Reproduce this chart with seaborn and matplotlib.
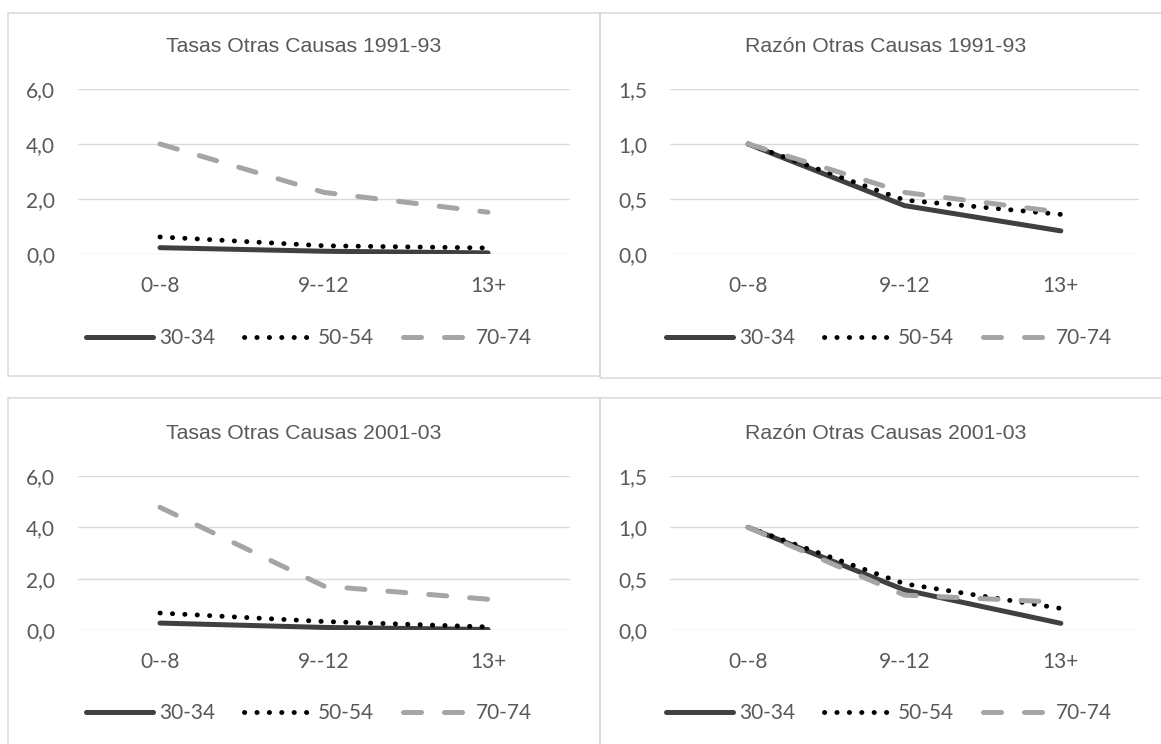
import matplotlib
matplotlib.use("Agg")
import matplotlib.pyplot as plt
from matplotlib.patches import Rectangle
import seaborn as sns
import pandas as pd

# ---- data ----
categories = ["0--8", "9--12", "13+"]
series_names = ["30-34", "50-54", "70-74"]

tasas_1991_3034 = [0.23, 0.10, 0.04]
tasas_1991_5054 = [0.62, 0.30, 0.22]
tasas_1991_7074 = [4.00, 2.24, 1.52]

razon_1991_3034 = [1.00, 0.44, 0.21]
razon_1991_5054 = [1.00, 0.49, 0.36]
razon_1991_7074 = [1.00, 0.56, 0.38]

tasas_2001_3034 = [0.27, 0.10, 0.02]
tasas_2001_5054 = [0.66, 0.33, 0.12]
tasas_2001_7074 = [4.78, 1.71, 1.20]

razon_2001_3034 = [1.00, 0.39, 0.065]
razon_2001_5054 = [1.00, 0.45, 0.21]
razon_2001_7074 = [1.00, 0.34, 0.27]

titles = ["Tasas Otras Causas 1991-93", "Razón Otras Causas 1991-93",
          "Tasas Otras Causas 2001-03", "Razón Otras Causas 2001-03"]
tasas_ticks = [0, 2, 4, 6]
tasas_ticklabels = ["0,0", "2,0", "4,0", "6,0"]
razon_ticks = [0, 0.5, 1.0, 1.5]
razon_ticklabels = ["0,0", "0,5", "1,0", "1,5"]

panels = [
    (tasas_1991_3034, tasas_1991_5054, tasas_1991_7074),
    (razon_1991_3034, razon_1991_5054, razon_1991_7074),
    (tasas_2001_3034, tasas_2001_5054, tasas_2001_7074),
    (razon_2001_3034, razon_2001_5054, razon_2001_7074),
]

# ---- style ----
sns.set_theme(style="white")
plt.rcParams["font.family"] = ["Lato", "DejaVu Sans"]

W, H = 1161, 744
fig = plt.figure(figsize=(W / 100, H / 100), dpi=100)
fig.patch.set_facecolor("white")

TXT = "#595959"
GRID = "#D9D9D9"

def fx(px):
    return px / W

def fy(py):
    return 1 - py / H

# panel borders (pixel coordinates)
borders = [(8, 12.5, 600, 376), (600, 12.5, 1175, 378),
           (8, 398, 600, 760), (600, 398, 1175, 760)]
for (x0, y0, x1, y1) in borders:
    fig.add_artist(Rectangle((fx(x0), fy(y1)), fx(x1) - fx(x0), fy(y0) - fy(y1),
                             transform=fig.transFigure, fill=False,
                             edgecolor=GRID, linewidth=1.1))

# plot areas (pixel coordinates): left, right, top, bottom
areas = [(78, 570, 89, 254), (670, 1139, 89, 254),
         (78, 570, 476, 630), (670, 1139, 476, 630)]
title_pos = [(304, 52.5), (886, 52.5), (304, 439), (886, 439)]
legend_pos = [(309, 338), (889, 338), (309, 713), (889, 713)]

styles = [
    dict(color="#404040", linewidth=3.6, linestyle="-", solid_capstyle="round"),
    dict(color="#000000", linewidth=3.5, linestyle=(0, (0.05, 2.5)), dash_capstyle="round"),
    dict(color="#A5A5A5", linewidth=3.6, linestyle=(0, (3.6, 4.6)), dash_capstyle="round"),
]

for i, (vals, (l, r, t, b)) in enumerate(zip(panels, areas)):
    ax = fig.add_axes([fx(l), fy(b), fx(r) - fx(l), fy(t) - fy(b)])
    ax.set_facecolor("none")
    for name, v, st in zip(series_names, vals, styles):
        df = pd.DataFrame({"cat": categories, "val": v})
        sns.lineplot(data=df, x="cat", y="val", ax=ax, label=name, sort=False, **st)
    ax.set_xlim(-0.5, 2.5)
    if i % 2 == 0:
        ax.set_ylim(0, 6)
        ax.set_yticks(tasas_ticks)
        ax.set_yticklabels(tasas_ticklabels)
    else:
        ax.set_ylim(0, 1.5)
        ax.set_yticks(razon_ticks)
        ax.set_yticklabels(razon_ticklabels)
    ax.set_xlabel("")
    ax.set_ylabel("")
    for s in ax.spines.values():
        s.set_visible(False)
    ax.yaxis.grid(True, color=GRID, linewidth=1.0)
    ax.xaxis.grid(False)
    ax.set_axisbelow(True)
    ax.tick_params(axis="both", length=0, labelsize=15, labelcolor=TXT)
    ax.tick_params(axis="x", pad=16)
    ax.tick_params(axis="y", pad=16.5)
    for lab in ax.get_yticklabels() + ax.get_xticklabels():
        lab.set_clip_on(False)

    lx, ly = legend_pos[i]
    leg = ax.legend(loc="center", bbox_to_anchor=(fx(lx), fy(ly)),
                    bbox_transform=fig.transFigure, ncol=3, frameon=False,
                    fontsize=15, handlelength=3.2, handletextpad=0.3,
                    columnspacing=1.4, borderaxespad=0, borderpad=0)
    for txt in leg.get_texts():
        txt.set_color(TXT)

    tx, ty = title_pos[i]
    fig.text(fx(tx), fy(ty), titles[i], ha="center", va="baseline",
             fontsize=15.3, color=TXT, family=["Liberation Sans", "DejaVu Sans"])

fig.savefig("out.png", dpi=100, facecolor="white")
